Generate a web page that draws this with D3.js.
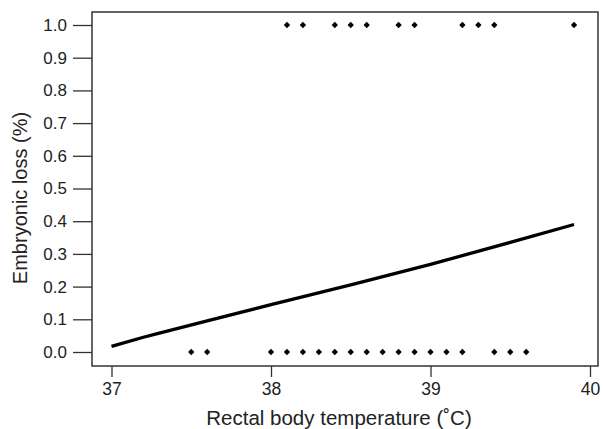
<!DOCTYPE html>
<html>
<head>
<meta charset="utf-8">
<script src="https://cdn.jsdelivr.net/npm/d3@7"></script>
<style>
  body { margin: 0; background: #fff; }
  text { font-family: "Liberation Sans", Arial, sans-serif; fill: #222; }
</style>
</head>
<body>
<svg id="chart" width="603" height="429"></svg>
<script>
// observed outcomes: 1 = embryonic loss, 0 = no loss
var tempLoss = [38.1, 38.2, 38.4, 38.5, 38.6, 38.8, 38.9, 39.2, 39.3, 39.4, 39.9];
var tempNoLoss = [37.5, 37.6, 38.0, 38.1, 38.2, 38.3, 38.4, 38.5, 38.6, 38.7, 38.8, 38.9, 39.0, 39.1, 39.2, 39.4, 39.5, 39.6];

// fitted curve
var lineTemp = [37.0, 37.2, 37.3, 37.6, 38.0, 38.5, 39.0, 39.5, 39.9];
var lineLoss = [0.017, 0.045, 0.058, 0.095, 0.145, 0.205, 0.268, 0.335, 0.39];

var yTicks = [0, 0.1, 0.2, 0.3, 0.4, 0.5, 0.6, 0.7, 0.8, 0.9, 1.0];
var xTicks = [37, 38, 39, 40];

var svg = d3.select("#chart");
// frame edges (avoid "top" - it clashes with window.top)
var boxL = 92, boxR = 598, boxT = 12, boxB = 366;

var x = d3.scaleLinear().domain([37, 40]).range([111.5, 590]);
var y = d3.scaleLinear().domain([0, 1]).range([352, 25]);

// y axis
var yAxis = svg.append("g").attr("transform", "translate(" + boxL + ",0)")
  .call(d3.axisLeft(y).tickValues(yTicks).tickFormat(d3.format(".1f")).tickSize(19).tickPadding(6));
yAxis.select(".domain").remove();
yAxis.selectAll("line").attr("stroke", "#333").attr("stroke-width", 1.3);
yAxis.selectAll("text").style("font-size", "17px").attr("fill", "#222");

// x axis
var xAxis = svg.append("g").attr("transform", "translate(0," + boxB + ")")
  .call(d3.axisBottom(x).tickValues(xTicks).tickFormat(d3.format("d")).tickSize(11).tickPadding(6));
xAxis.select(".domain").remove();
xAxis.selectAll("line").attr("stroke", "#333").attr("stroke-width", 1.3);
xAxis.selectAll("text").style("font-size", "17.5px").attr("fill", "#222");

// frame
svg.append("rect")
  .attr("x", boxL).attr("y", boxT)
  .attr("width", boxR - boxL).attr("height", boxB - boxT)
  .attr("fill", "none").attr("stroke", "#333").attr("stroke-width", 1.5);

// fitted line
var lineData = lineTemp.map(function(t, i) { return [t, lineLoss[i]]; });
svg.append("path")
  .datum(lineData)
  .attr("fill", "none")
  .attr("stroke", "#000")
  .attr("stroke-width", 3.3)
  .attr("d", d3.line().x(function(d) { return x(d[0]); }).y(function(d) { return y(d[1]); }));

// points (rotated squares)
var sym = d3.symbol().type(d3.symbolSquare).size(20);
var pts = tempLoss.map(function(t) { return [t, 1]; })
  .concat(tempNoLoss.map(function(t) { return [t, 0]; }));
svg.selectAll(".pt").data(pts).enter().append("path")
  .attr("class", "pt")
  .attr("transform", function(d) { return "translate(" + x(d[0]) + "," + y(d[1]) + ") rotate(45)"; })
  .attr("d", sym)
  .attr("fill", "#000");

// axis titles
svg.append("text")
  .attr("x", 339).attr("y", 425)
  .attr("text-anchor", "middle")
  .style("font-size", "20.5px")
  .text("Rectal body temperature (\u02daC)");

svg.append("text")
  .attr("transform", "translate(27,198) rotate(-90)")
  .attr("text-anchor", "middle")
  .style("font-size", "20px")
  .text("Embryonic loss (%)");
</script>
</body>
</html>
